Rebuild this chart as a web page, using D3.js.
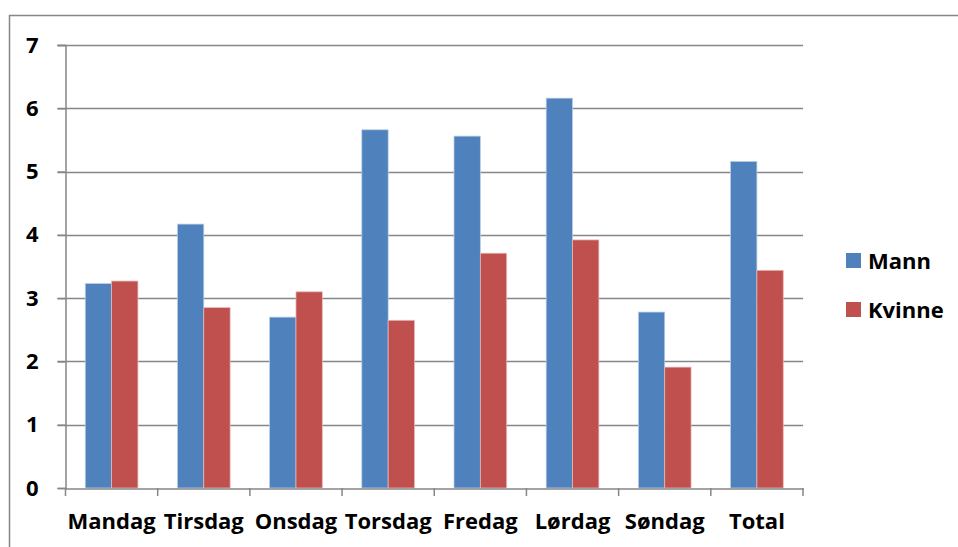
<!DOCTYPE html>
<html>
<head>
<meta charset="utf-8">
<script src="https://cdn.jsdelivr.net/npm/d3@7"></script>
<style>
    body { margin: 0; background: #fff; }
    text { font-family: "Open Sans", Lato, sans-serif; font-weight: bold; fill: #000; }
</style>
</head>
<body>
<div id="chart"></div>
<script>
(function() {
    var categories = ["Mandag", "Tirsdag", "Onsdag", "Torsdag", "Fredag", "Lørdag", "Søndag", "Total"];
    var series = ["Mann", "Kvinne"];
    var mann = [3.23, 4.17, 2.70, 5.66, 5.56, 6.16, 2.78, 5.16];
    var kvinne = [3.27, 2.85, 3.10, 2.65, 3.71, 3.92, 1.91, 3.44];
    var yTicks = [0, 1, 2, 3, 4, 5, 6, 7];
    var colors = ["#4f81bd", "#c0504d"];
    var strokes = ["#b9cde5", "#e6b9b8"];

    var width = 958,
        height = 547,
        margin = { top: 45, left: 65.5, right: 155, bottom: 59 };

    var svg = d3.select("#chart")
        .append("svg")
        .attr("width", width)
        .attr("height", height);

    // outer chart border, runs off the page on right and bottom
    svg.append("rect")
        .attr("x", 9.5)
        .attr("y", 15.5)
        .attr("width", 1000)
        .attr("height", 600)
        .attr("fill", "none")
        .attr("stroke", "#868686")
        .attr("stroke-width", 1.5);

    var x = d3.scaleBand()
        .domain(categories)
        .range([margin.left, width - margin.right]);

    var y = d3.scaleLinear()
        .domain([0, 7])
        .range([height - margin.bottom, margin.top]);

    var bw = x.bandwidth() / 3.5;
    var x1 = d3.scaleBand()
        .domain(series)
        .range([0.75 * bw, 2.75 * bw]);

    // gridlines
    svg.append("g")
        .selectAll("line")
        .data(yTicks.slice(1))
        .enter().append("line")
        .attr("x1", margin.left - 8)
        .attr("x2", width - margin.right)
        .attr("y1", d => Math.round(y(d)) + 0.5)
        .attr("y2", d => Math.round(y(d)) + 0.5)
        .attr("stroke", "#868686")
        .attr("stroke-width", 1.5);

    // bars
    var data = [mann, kvinne];
    series.forEach(function(s, si) {
        svg.append("g")
            .selectAll("rect")
            .data(data[si])
            .enter().append("rect")
            .attr("x", (d, i) => x(categories[i]) + x1(s))
            .attr("y", d => y(d))
            .attr("width", x1.bandwidth())
            .attr("height", d => y(0) - y(d))
            .attr("fill", colors[si])
            .attr("stroke", strokes[si])
            .attr("stroke-width", 0.75);
    });

    // y axis
    var yAxis = svg.append("g")
        .attr("transform", "translate(" + margin.left + ",0)")
        .call(d3.axisLeft(y).tickValues(yTicks).tickSize(8).tickPadding(19).tickFormat(d3.format("d")));
    yAxis.select(".domain").attr("stroke", "#868686").attr("stroke-width", 1.5);
    yAxis.selectAll(".tick line").attr("stroke", "#868686").attr("stroke-width", 1.5);
    yAxis.selectAll("text").style("font-size", "22px");

    // x axis
    var xAxis = svg.append("g")
        .attr("transform", "translate(0," + (Math.round(y(0)) + 0.5) + ")")
        .call(d3.axisBottom(x).tickSize(0).tickPadding(25));
    xAxis.select(".domain").attr("stroke", "#868686").attr("stroke-width", 1.5);
    xAxis.selectAll("text").style("font-size", "22px");

    svg.append("g")
        .selectAll("line")
        .data(categories.concat(["end"]))
        .enter().append("line")
        .attr("x1", (d, i) => i < categories.length ? x(d) : x.range()[1])
        .attr("x2", (d, i) => i < categories.length ? x(d) : x.range()[1])
        .attr("y1", y(0))
        .attr("y2", y(0) + 8)
        .attr("stroke", "#868686")
        .attr("stroke-width", 1.5);

    // legend
    var legend = svg.append("g")
        .selectAll("g")
        .data(series)
        .enter().append("g")
        .attr("transform", (d, i) => "translate(846," + (253 + i * 49) + ")");
    legend.append("rect")
        .attr("width", 15)
        .attr("height", 15)
        .attr("fill", (d, i) => colors[i]);
    legend.append("text")
        .attr("x", 22)
        .attr("y", 16)
        .style("font-size", "22px")
        .text(d => d);
})();
</script>
</body>
</html>
